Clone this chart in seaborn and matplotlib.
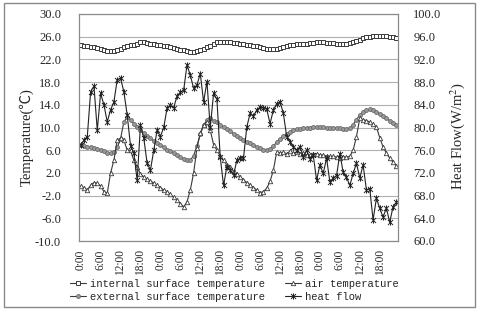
import numpy as np
import pandas as pd
import matplotlib
matplotlib.use("Agg")
import matplotlib.pyplot as plt
from matplotlib.path import Path
import seaborn as sns

# ---------------- data (hourly, 4 days) ----------------
tick_labels = ["0:00", "6:00", "12:00", "18:00"] * 4

internal_surface = [
    24.5, 24.4, 24.3, 24.2, 24.1, 24.0, 23.9, 23.7, 23.5, 23.4,
    23.5, 23.7, 23.9, 24.1, 24.3, 24.5, 24.6, 24.8, 25.0, 25.0,
    24.9, 24.8, 24.7, 24.6, 24.5, 24.4, 24.3, 24.2, 24.0, 23.9,
    23.7, 23.6, 23.4, 23.3, 23.3, 23.4, 23.6, 23.8, 24.1, 24.4,
    24.8, 25.0, 25.1, 25.1, 25.1, 25.0, 24.9, 24.9, 24.8, 24.7,
    24.6, 24.5, 24.4, 24.3, 24.2, 24.0, 23.9, 23.8, 23.8, 23.9,
    24.0, 24.2, 24.4, 24.5, 24.6, 24.7, 24.7, 24.8, 24.8, 24.9,
    24.9, 25.0, 25.0, 25.0, 24.9, 24.9, 24.9, 24.8, 24.8, 24.8,
    24.8, 24.9, 25.1, 25.3, 25.5, 25.7, 25.9, 26.0, 26.1, 26.2,
    26.2, 26.2, 26.1, 26.0, 25.9, 25.8,
]

external_surface = [
    6.9, 6.8, 6.6, 6.5, 6.3, 6.2, 6.0, 5.8, 5.5, 5.5,
    5.6, 6.5, 8.0, 11.0, 11.8, 11.3, 10.7, 10.1, 9.5, 9.0,
    8.5, 8.1, 7.6, 7.2, 6.9, 6.5, 6.1, 5.8, 5.5, 5.1,
    4.8, 4.5, 4.2, 4.3, 5.0, 6.8, 8.8, 10.4, 11.3, 11.6,
    11.2, 10.9, 10.5, 10.1, 9.7, 9.3, 8.9, 8.5, 8.1, 7.8,
    7.5, 7.2, 6.9, 6.6, 6.3, 6.1, 6.0, 6.2, 6.7, 7.4,
    8.0, 8.5, 8.9, 9.2, 9.5, 9.7, 9.8, 9.9, 10.0, 10.0,
    10.1, 10.1, 10.1, 10.1, 10.0, 10.0, 10.0, 9.9, 9.9, 9.8,
    9.8, 9.9, 10.5, 11.4, 12.2, 12.8, 13.1, 13.2, 13.1, 12.8,
    12.4, 12.0, 11.6, 11.2, 10.8, 10.4,
]

air_temperature = [
    -0.3, -0.6, -1.0, -0.2, 0.3, 0.2, -0.3, -1.3, -1.6, 2.0,
    4.2, 7.8, 8.1, 7.8, 6.0, 6.0, 4.2, 3.1, 1.8, 1.3,
    0.9, 0.6, 0.2, -0.2, -0.6, -1.0, -1.3, -1.8, -2.3, -2.8,
    -3.4, -4.0, -3.1, -1.0, 2.0, 6.4, 9.0, 10.5, 11.0, 9.5,
    7.0, 6.0, 5.0, 4.2, 3.4, 3.0, 2.3, 1.8, 1.3, 0.8,
    0.3, -0.1, -0.6, -1.0, -1.5, -1.3, -0.7, 0.5, 2.5, 5.7,
    5.5, 5.6, 5.4, 5.8, 5.5, 5.6, 5.3, 5.5, 5.2, 5.1,
    5.3, 5.4, 5.2, 5.1, 5.0, 4.9, 4.9, 4.8, 4.7, 4.8,
    4.8, 4.9, 6.0, 8.4, 11.6, 11.4, 11.2, 11.0, 10.6, 10.1,
    8.2, 6.6, 5.5, 4.6, 3.9, 3.3,
]

heat_flow = [
    76.9, 77.8, 78.4, 86.3, 87.3, 79.5, 86.0, 84.0, 81.0, 83.1,
    84.5, 88.4, 88.7, 86.3, 82.2, 76.8, 75.5, 70.7, 80.4, 78.1,
    73.7, 72.5, 76.0, 79.5, 78.4, 80.0, 83.4, 83.9, 83.5, 85.5,
    86.2, 86.6, 91.0, 89.2, 86.9, 87.5, 89.5, 84.5, 88.1, 80.0,
    86.0, 85.0, 74.8, 69.8, 73.1, 72.5, 71.6, 74.2, 74.6, 74.6,
    80.1, 82.5, 82.0, 83.1, 83.6, 83.5, 83.2, 80.7, 83.1, 84.2,
    84.5, 82.5, 78.4, 77.5, 76.6, 76.0, 76.6, 74.8, 76.0, 74.5,
    75.1, 70.7, 73.4, 71.9, 74.6, 70.4, 71.1, 71.5, 75.4, 72.1,
    71.2, 69.8, 71.9, 73.7, 71.1, 73.4, 69.0, 69.2, 63.7, 67.5,
    65.8, 64.2, 65.8, 63.3, 66.0, 66.8,
]

n = len(internal_surface)
df = pd.DataFrame({
    "idx": np.arange(n),
    "internal": internal_surface,
    "external": external_surface,
    "air": air_temperature,
    "heat": heat_flow,
})

# ---------------- style ----------------
sns.set_style("white")
plt.rcParams["font.family"] = ["Liberation Serif", "Noto Sans CJK SC", "DejaVu Sans"]
plt.rcParams["mathtext.fontset"] = "stix"

fig = plt.figure(figsize=(4.8, 3.13), dpi=100)
ax = fig.add_axes([79 / 480, 1 - 241 / 313, (398 - 79) / 480, (241 - 14) / 313])
ax2 = ax.twinx()

line_col = "#3a3a3a"
asterisk = Path(
    [(0, -1), (0, 1), (-0.8, -0.8), (0.8, 0.8), (-0.8, 0.8), (0.8, -0.8)],
    [Path.MOVETO, Path.LINETO, Path.MOVETO, Path.LINETO, Path.MOVETO, Path.LINETO],
)

common = dict(linewidth=0.8, color=line_col, legend=False)
sns.lineplot(data=df, x="idx", y="internal", ax=ax, marker="s", markersize=3.2,
             markerfacecolor="white", markeredgecolor=line_col, markeredgewidth=0.7, **common)
sns.lineplot(data=df, x="idx", y="external", ax=ax, marker="o", markersize=2.8,
             markerfacecolor="#9a9a9a", markeredgecolor="#6a6a6a", markeredgewidth=0.6, **common)
sns.lineplot(data=df, x="idx", y="air", ax=ax, marker="^", markersize=3.2,
             markerfacecolor="white", markeredgecolor=line_col, markeredgewidth=0.6, **common)
sns.lineplot(data=df, x="idx", y="heat", ax=ax2, marker=asterisk, markersize=4.5,
             markerfacecolor="none", markeredgecolor="#222222", markeredgewidth=0.7,
             linewidth=0.8, color="#222222", legend=False)

ax.lines[0].set_label("internal surface temperature")
ax.lines[1].set_label("external surface temperature")
ax.lines[2].set_label("air temperature")
ax2.lines[0].set_label("heat flow")

# axes ranges and ticks
ax.set_xlim(-0.5, n - 0.5)
ax.set_ylim(-10, 30)
ax2.set_ylim(60, 100)
yt = np.arange(-10, 30.1, 4)
ax.set_yticks(yt)
ax.set_yticklabels([f"{v:.1f}" for v in yt])
yt2 = np.arange(60, 100.1, 4)
ax2.set_yticks(yt2)
ax2.set_yticklabels([f"{v:.1f}" for v in yt2])
ax.set_xticks(np.arange(0, n, 6))
ax.set_xticklabels(tick_labels, rotation=90)

ax.tick_params(axis="y", labelsize=9, length=0, pad=13)
ax2.tick_params(axis="y", labelsize=9, length=0, pad=11)
ax.tick_params(axis="x", labelsize=8.3, length=0, pad=6)
ax.set_xlabel("")
ax.set_ylabel("")
ax2.set_ylabel("")

ax.grid(axis="y", color="#b0b0b0", linewidth=0.8)
ax.grid(axis="x", visible=False)
ax2.grid(False)
for a in (ax, ax2):
    for s in a.spines.values():
        s.set_color("#8a8a8a")
        s.set_linewidth(0.8)

fig.text(27 / 480, 1 - 137 / 313, "Temperature(℃)", rotation=90, ha="center", va="center",
         fontsize=10.5)
fig.text(458 / 480, 1 - 136 / 313, "Heat Flow(W/m$^2$)", rotation=90, ha="center",
         va="center", fontsize=10.5)

handles = [ax.lines[0], ax.lines[1], ax.lines[2], ax2.lines[0]]
fig.legend(handles=handles, labels=[h.get_label() for h in handles], ncol=2,
           loc="upper left", bbox_to_anchor=(70 / 480, 1 - 279 / 313), frameon=False,
           prop={"family": "Liberation Mono", "size": 7.6}, handlelength=1.5,
           handletextpad=0.4, columnspacing=1.9, labelspacing=0.3,
           borderpad=0, borderaxespad=0)

# outer frame
fig.patches.append(plt.Rectangle((4 / 480, 1 - 307 / 313), 471 / 480, 304 / 313,
                                 transform=fig.transFigure, fill=False,
                                 edgecolor="#8a8a8a", linewidth=1.0))

fig.savefig("out.png", dpi=100)
